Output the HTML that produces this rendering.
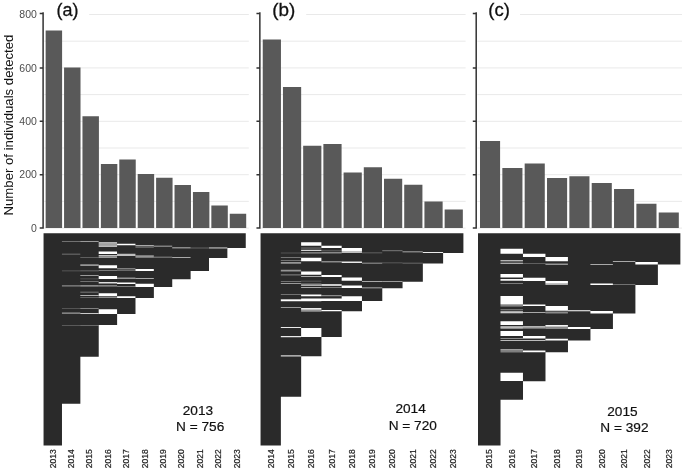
<!DOCTYPE html>
<html lang="en">
<head>
<meta charset="utf-8">
<title>Detection histories</title>
<style>
html,body{margin:0;padding:0;background:#fff}
body{width:685px;height:470px;overflow:hidden}
svg{display:block;will-change:transform;filter:grayscale(1)}
text{font-family:"Liberation Sans",Arial,Helvetica,sans-serif}
.pl{font-size:18.7px;fill:#111;stroke:#111;stroke-width:.3px}
.yr{font-size:8.55px;fill:#222;stroke:#222;stroke-width:.2px}
.nt{font-size:13.65px;fill:#111;stroke:#111;stroke-width:.2px;text-anchor:middle}
.yt{font-size:10.5px;fill:#4d4d4d;text-anchor:end}
.ytitle{font-size:13.18px;fill:#111}
</style>
</head>
<body>
<svg width="685" height="470" viewBox="0 0 685 470" role="img" aria-label="Detection histories by cohort">
<rect width="685" height="470" fill="#fff"/>
<g class="panel-a">
<path d="M44.3 228.1H248.8M44.3 201.4H248.8M44.3 174.7H248.8M44.3 148H248.8M44.3 121.3H248.8M44.3 94.6H248.8M44.3 67.9H248.8M44.3 41.2H248.8M44.3 14.5H248.8" stroke="#e6e6e6" stroke-width="0.9" fill="none"/>
<rect x="44.3" y="0" width="44.9" height="22" fill="#fff"/>
<text class="pl" transform="translate(56.5 15.7) scale(0.96 1)">(a)</text>
<path d="M45.65 30.5h16.45V228.1h-16.45zM64.06 67.5h16.45V228.1h-16.45zM82.47 116.25h16.45V228.1h-16.45zM100.88 164h16.45V228.1h-16.45zM119.29 159.5h16.45V228.1h-16.45zM137.7 174h16.45V228.1h-16.45zM156.11 177.75h16.45V228.1h-16.45zM174.52 185h16.45V228.1h-16.45zM192.93 192h16.45V228.1h-16.45zM211.34 205.5h16.45V228.1h-16.45zM229.75 213.75h16.45V228.1h-16.45z" fill="#595959"/>
<path d="M43.1 12.2V228.7M39.7 228.1H43.1M39.7 174.7H43.1M39.7 121.3H43.1M39.7 67.9H43.1M39.7 13.6H43.1" stroke="#333333" stroke-width="1.5" fill="none"/>
<path d="M43.55 233.3h18.43V445.5h-18.43zM61.93 233.3h18.43V403.7h-18.43zM80.3 233.3h18.43V356.8h-18.43zM98.68 233.3h18.43V325h-18.43zM117.06 233.3h18.43V314h-18.43zM135.44 233.3h18.43V297.9h-18.43zM153.81 233.3h18.43V287h-18.43zM172.19 233.3h18.43V279.3h-18.43zM190.57 233.3h18.43V271h-18.43zM208.94 233.3h18.43V257.9h-18.43zM227.32 233.3h18.43V248h-18.43z" fill="#2a2a2a"/>
<path d="M80.3 278.55h18.38v0.7h-18.38z" fill="#fff" fill-opacity="0.25"/>
<path d="M61.93 270.55h18.38v0.7h-18.38z" fill="#fff" fill-opacity="0.3"/>
<path d="M190.57 247.6h18.38v0.8h-18.38z" fill="#fff" fill-opacity="0.35"/>
<path d="M61.93 308.15h18.38v0.7h-18.38zM80.3 270.55h18.38v0.7h-18.38zM117.06 269.95h18.38v0.7h-18.38z" fill="#fff" fill-opacity="0.4"/>
<path d="M61.93 240.95h18.38v0.7h-18.38zM61.93 253.85h18.38v0.7h-18.38zM61.93 285.3h18.38v1.2h-18.38zM61.93 325.15h18.38v0.7h-18.38zM80.3 281.25h18.38v0.7h-18.38zM98.68 255.9h18.38v0.9h-18.38zM172.19 246.9h18.38v1.5h-18.38z" fill="#fff" fill-opacity="0.45"/>
<path d="M80.3 257.15h18.38v0.7h-18.38zM80.3 264.3h18.38v1.8h-18.38zM80.3 291.75h18.38v0.7h-18.38zM80.3 297.15h18.38v0.7h-18.38zM98.68 270.25h18.38v0.7h-18.38zM117.06 277.4h18.38v1.5h-18.38zM117.06 286.05h18.38v0.7h-18.38zM135.44 246.6h18.38v1h-18.38zM135.44 255.3h18.38v2.5h-18.38z" fill="#fff" fill-opacity="0.5"/>
<path d="M61.93 312.6h18.38v1.2h-18.38zM98.68 243.5h18.38v1.8h-18.38zM98.68 285.3h18.38v1.2h-18.38z" fill="#fff" fill-opacity="0.55"/>
<path d="M80.3 285.3h18.38v1.2h-18.38zM80.3 325.15h18.38v0.7h-18.38zM98.68 297.05h18.38v0.7h-18.38zM153.81 256.75h18.38v0.7h-18.38z" fill="#fff" fill-opacity="0.6"/>
<path d="M80.3 240.95h18.38v0.7h-18.38zM80.3 275.05h18.38v0.7h-18.38zM98.68 254.9h18.38v1h-18.38zM98.68 256.8h18.38v1h-18.38zM117.06 253.8h18.38v2.1h-18.38z" fill="#fff" fill-opacity="0.7"/>
<path d="M98.68 245.3h18.38v1.6h-18.38z" fill="#fff" fill-opacity="0.75"/>
<path d="M80.3 308.15h18.38v0.7h-18.38zM117.06 268.45h18.38v0.7h-18.38zM135.44 245h18.38v0.8h-18.38zM135.44 278.05h18.38v0.7h-18.38zM153.81 245.85h18.38v0.7h-18.38zM172.19 257.05h18.38v0.7h-18.38z" fill="#fff" fill-opacity="0.8"/>
<path d="M80.3 295.35h18.38v0.7h-18.38zM98.68 242.3h18.38v1.2h-18.38zM98.68 281.9h18.38v1.5h-18.38z" fill="#fff" fill-opacity="0.85"/>
<path d="M208.94 247.5h18.38v0.9h-18.38z" fill="#fff" fill-opacity="0.9"/>
<path d="M80.3 313.1h18.38v0.8h-18.38z" fill="#fff" fill-opacity="0.95"/>
<path d="M98.68 251.4h18.38v2.6h-18.38zM98.68 265.3h18.38v3h-18.38zM98.68 275.9h18.38v3h-18.38zM98.68 293.2h18.38v3h-18.38zM98.68 309.3h18.38v4.6h-18.38zM117.06 243.8h18.38v1.5h-18.38zM117.06 282.6h18.38v1.5h-18.38zM117.06 296.2h18.38v1.7h-18.38zM135.44 269.1h18.38v1.8h-18.38zM135.44 283.8h18.38v3.2h-18.38z" fill="#fff" fill-opacity="1"/>
<text class="yr" transform="translate(55.74 468.2) rotate(-90)">2013</text>
<text class="yr" transform="translate(74.12 468.2) rotate(-90)">2014</text>
<text class="yr" transform="translate(92.49 468.2) rotate(-90)">2015</text>
<text class="yr" transform="translate(110.87 468.2) rotate(-90)">2016</text>
<text class="yr" transform="translate(129.25 468.2) rotate(-90)">2017</text>
<text class="yr" transform="translate(147.62 468.2) rotate(-90)">2018</text>
<text class="yr" transform="translate(166 468.2) rotate(-90)">2019</text>
<text class="yr" transform="translate(184.38 468.2) rotate(-90)">2020</text>
<text class="yr" transform="translate(202.75 468.2) rotate(-90)">2021</text>
<text class="yr" transform="translate(221.13 468.2) rotate(-90)">2022</text>
<text class="yr" transform="translate(239.51 468.2) rotate(-90)">2023</text>
<text class="nt" x="197.9" y="414.5">2013</text>
<text class="nt" x="200.2" y="431.3">N = 756</text>
</g>
<g class="panel-b">
<path d="M261 228.1H465.6M261 201.4H465.6M261 174.7H465.6M261 148H465.6M261 121.3H465.6M261 94.6H465.6M261 67.9H465.6M261 41.2H465.6M261 14.5H465.6" stroke="#e6e6e6" stroke-width="0.9" fill="none"/>
<rect x="261" y="0" width="45.2" height="22" fill="#fff"/>
<text class="pl" transform="translate(272.3 15.7) scale(1.01 1)">(b)</text>
<path d="M262.75 39.5h18.2V228.1h-18.2zM282.96 87h18.2V228.1h-18.2zM303.17 145.75h18.2V228.1h-18.2zM323.38 144h18.2V228.1h-18.2zM343.59 172.5h18.2V228.1h-18.2zM363.8 167.25h18.2V228.1h-18.2zM384.01 178.75h18.2V228.1h-18.2zM404.22 184.75h18.2V228.1h-18.2zM424.43 201.5h18.2V228.1h-18.2zM444.64 209.5h18.2V228.1h-18.2z" fill="#595959"/>
<path d="M259.85 12.2V228.7M256.45 228.1H259.85M256.45 174.7H259.85M256.45 121.3H259.85M256.45 67.9H259.85M256.45 13.6H259.85" stroke="#333333" stroke-width="1.5" fill="none"/>
<path d="M260.55 233.3h20.33V445.5h-20.33zM280.83 233.3h20.33V396.7h-20.33zM301.11 233.3h20.33V356.3h-20.33zM321.39 233.3h20.33V337h-20.33zM341.67 233.3h20.33V311.2h-20.33zM361.95 233.3h20.33V301.05h-20.33zM382.23 233.3h20.33V288.3h-20.33zM402.51 233.3h20.33V281.85h-20.33zM422.79 233.3h20.33V263.4h-20.33zM443.07 233.3h20.33V252.9h-20.33z" fill="#2a2a2a"/>
<path d="M321.39 249.9h20.28v1.5h-20.28z" fill="#fff" fill-opacity="0.2"/>
<path d="M301.11 247.3h20.28v1.5h-20.28z" fill="#fff" fill-opacity="0.25"/>
<path d="M301.11 280.75h20.28v0.7h-20.28zM382.23 249.9h20.28v1.4h-20.28zM382.23 262.45h20.28v0.7h-20.28z" fill="#fff" fill-opacity="0.3"/>
<path d="M280.83 274.3h20.28v1.1h-20.28zM361.95 252.45h20.28v0.7h-20.28z" fill="#fff" fill-opacity="0.35"/>
<path d="M280.83 252.65h20.28v0.7h-20.28zM402.51 262.85h20.28v0.7h-20.28z" fill="#fff" fill-opacity="0.4"/>
<path d="M280.83 260.05h20.28v0.7h-20.28zM280.83 281.05h20.28v0.7h-20.28zM280.83 294.05h20.28v0.7h-20.28zM301.11 283.4h20.28v1.5h-20.28zM321.39 252h20.28v1.4h-20.28zM321.39 261h20.28v1.6h-20.28zM321.39 295h20.28v1.2h-20.28z" fill="#fff" fill-opacity="0.45"/>
<path d="M280.83 261.9h20.28v1.9h-20.28zM280.83 269.8h20.28v1.6h-20.28zM301.11 252.3h20.28v1.2h-20.28zM301.11 309.8h20.28v2h-20.28zM321.39 287.05h20.28v0.7h-20.28z" fill="#fff" fill-opacity="0.5"/>
<path d="M280.83 257.15h20.28v0.7h-20.28zM280.83 283.05h20.28v0.7h-20.28zM280.83 299.15h20.28v0.7h-20.28zM341.67 250.9h20.28v2h-20.28zM361.95 262.75h20.28v0.7h-20.28zM382.23 281.25h20.28v0.7h-20.28z" fill="#fff" fill-opacity="0.7"/>
<path d="M280.83 307.25h20.28v0.7h-20.28z" fill="#fff" fill-opacity="0.75"/>
<path d="M280.83 355.2h20.28v1.3h-20.28zM301.11 249.8h20.28v1.2h-20.28zM301.11 275.95h20.28v0.7h-20.28zM301.11 285.25h20.28v0.7h-20.28zM301.11 287.05h20.28v0.7h-20.28zM361.95 281.05h20.28v0.7h-20.28zM361.95 287.55h20.28v0.7h-20.28zM402.51 251.45h20.28v0.7h-20.28z" fill="#fff" fill-opacity="0.8"/>
<path d="M321.39 284.1h20.28v1.8h-20.28z" fill="#fff" fill-opacity="0.85"/>
<path d="M280.83 326.9h20.28v1h-20.28zM280.83 336h20.28v1.2h-20.28zM301.11 307.9h20.28v1.9h-20.28zM341.67 261.6h20.28v1.5h-20.28zM422.79 252.1h20.28v0.9h-20.28z" fill="#fff" fill-opacity="0.9"/>
<path d="M280.83 299.5h20.28v1.8h-20.28zM301.11 242.3h20.28v3.5h-20.28zM301.11 257.8h20.28v3.5h-20.28zM301.11 271.4h20.28v3.4h-20.28zM301.11 294.4h20.28v1.8h-20.28zM301.11 298.4h20.28v2.9h-20.28zM301.11 328.1h20.28v8.9h-20.28zM321.39 245.8h20.28v2.2h-20.28zM321.39 275.1h20.28v1.8h-20.28zM321.39 298.6h20.28v2.45h-20.28zM321.39 310.1h20.28v1.2h-20.28zM341.67 248h20.28v2.9h-20.28zM341.67 277.4h20.28v3.4h-20.28zM341.67 285.6h20.28v2.5h-20.28zM341.67 296.2h20.28v4.85h-20.28z" fill="#fff" fill-opacity="1"/>
<text class="yr" transform="translate(273.69 468.2) rotate(-90)">2014</text>
<text class="yr" transform="translate(293.97 468.2) rotate(-90)">2015</text>
<text class="yr" transform="translate(314.25 468.2) rotate(-90)">2016</text>
<text class="yr" transform="translate(334.53 468.2) rotate(-90)">2017</text>
<text class="yr" transform="translate(354.81 468.2) rotate(-90)">2018</text>
<text class="yr" transform="translate(375.09 468.2) rotate(-90)">2019</text>
<text class="yr" transform="translate(395.37 468.2) rotate(-90)">2020</text>
<text class="yr" transform="translate(415.65 468.2) rotate(-90)">2021</text>
<text class="yr" transform="translate(435.93 468.2) rotate(-90)">2022</text>
<text class="yr" transform="translate(456.21 468.2) rotate(-90)">2023</text>
<text class="nt" x="410.6" y="413">2014</text>
<text class="nt" x="412.8" y="429.6">N = 720</text>
</g>
<g class="panel-c">
<path d="M477.3 228.1H682M477.3 201.4H682M477.3 174.7H682M477.3 148H682M477.3 121.3H682M477.3 94.6H682M477.3 67.9H682M477.3 41.2H682M477.3 14.5H682" stroke="#e6e6e6" stroke-width="0.9" fill="none"/>
<rect x="477.3" y="0" width="42.7" height="22" fill="#fff"/>
<text class="pl" transform="translate(488.3 15.6) scale(0.99 1)">(c)</text>
<path d="M480 141h20.1V228.1h-20.1zM502.34 168h20.1V228.1h-20.1zM524.68 163.5h20.1V228.1h-20.1zM547.02 178h20.1V228.1h-20.1zM569.36 176.25h20.1V228.1h-20.1zM591.7 183h20.1V228.1h-20.1zM614.04 189h20.1V228.1h-20.1zM636.38 203.75h20.1V228.1h-20.1zM658.72 212.5h20.1V228.1h-20.1z" fill="#595959"/>
<path d="M476.2 12.2V228.7M472.8 228.1H476.2M472.8 174.7H476.2M472.8 121.3H476.2M472.8 67.9H476.2M472.8 13.6H476.2" stroke="#333333" stroke-width="1.5" fill="none"/>
<path d="M478 233.3h22.53V445.5h-22.53zM500.48 233.3h22.53V399.7h-22.53zM522.96 233.3h22.53V381.2h-22.53zM545.44 233.3h22.53V352.2h-22.53zM567.92 233.3h22.53V340.6h-22.53zM590.4 233.3h22.53V329h-22.53zM612.88 233.3h22.53V313.4h-22.53zM635.36 233.3h22.53V285h-22.53zM657.84 233.3h22.53V264.4h-22.53z" fill="#2a2a2a"/>
<path d="M500.48 260.9h22.48v0.9h-22.48zM500.48 305.4h22.48v1.4h-22.48z" fill="#fff" fill-opacity="0.35"/>
<path d="M500.48 350.5h22.48v2h-22.48z" fill="#fff" fill-opacity="0.4"/>
<path d="M500.48 309.3h22.48v1h-22.48zM545.44 311.6h22.48v2h-22.48zM612.88 284.25h22.48v0.7h-22.48z" fill="#fff" fill-opacity="0.45"/>
<path d="M500.48 282.9h22.48v0.9h-22.48zM522.96 263.4h22.48v0.7h-22.48zM545.44 263.4h22.48v1.6h-22.48z" fill="#fff" fill-opacity="0.5"/>
<path d="M500.48 349h22.48v1.5h-22.48z" fill="#fff" fill-opacity="0.55"/>
<path d="M500.48 304h22.48v1.4h-22.48zM500.48 338.25h22.48v0.7h-22.48z" fill="#fff" fill-opacity="0.6"/>
<path d="M500.48 260h22.48v0.9h-22.48zM522.96 325.9h22.48v1.7h-22.48z" fill="#fff" fill-opacity="0.65"/>
<path d="M545.44 283.4h22.48v1.5h-22.48z" fill="#fff" fill-opacity="0.7"/>
<path d="M500.48 311.2h22.48v2.1h-22.48z" fill="#fff" fill-opacity="0.75"/>
<path d="M500.48 262.8h22.48v1h-22.48zM500.48 326.3h22.48v1.3h-22.48zM522.96 311.95h22.48v0.7h-22.48zM590.4 264.25h22.48v0.7h-22.48zM612.88 260.95h22.48v0.7h-22.48z" fill="#fff" fill-opacity="0.8"/>
<path d="M522.96 327.6h22.48v0.8h-22.48z" fill="#fff" fill-opacity="0.85"/>
<path d="M500.48 339.9h22.48v0.9h-22.48zM522.96 339.9h22.48v0.9h-22.48zM545.44 327.5h22.48v0.9h-22.48z" fill="#fff" fill-opacity="0.9"/>
<path d="M500.48 278.9h22.48v1.9h-22.48zM500.48 327.6h22.48v0.9h-22.48zM545.44 324.9h22.48v1.9h-22.48z" fill="#fff" fill-opacity="0.95"/>
<path d="M500.48 248.8h22.48v5h-22.48zM500.48 273.9h22.48v3.5h-22.48zM500.48 295.9h22.48v8.1h-22.48zM500.48 321.3h22.48v3.8h-22.48zM500.48 331.1h22.48v4.8h-22.48zM500.48 372.8h22.48v8.2h-22.48zM522.96 253.8h22.48v3.3h-22.48zM522.96 277.8h22.48v3.3h-22.48zM522.96 304.5h22.48v1.4h-22.48zM522.96 335.9h22.48v2.7h-22.48zM522.96 350.6h22.48v1.6h-22.48zM545.44 257.1h22.48v4.2h-22.48zM545.44 281.1h22.48v2.3h-22.48zM545.44 305.9h22.48v4.9h-22.48zM545.44 338.7h22.48v1.9h-22.48zM567.92 310.3h22.48v0.9h-22.48zM567.92 327h22.48v1.9h-22.48zM590.4 283.5h22.48v1.4h-22.48zM590.4 311h22.48v2.5h-22.48zM635.36 261.9h22.48v2.6h-22.48z" fill="#fff" fill-opacity="1"/>
<text class="yr" transform="translate(492.24 468.2) rotate(-90)">2015</text>
<text class="yr" transform="translate(514.72 468.2) rotate(-90)">2016</text>
<text class="yr" transform="translate(537.2 468.2) rotate(-90)">2017</text>
<text class="yr" transform="translate(559.68 468.2) rotate(-90)">2018</text>
<text class="yr" transform="translate(582.16 468.2) rotate(-90)">2019</text>
<text class="yr" transform="translate(604.64 468.2) rotate(-90)">2020</text>
<text class="yr" transform="translate(627.12 468.2) rotate(-90)">2021</text>
<text class="yr" transform="translate(649.6 468.2) rotate(-90)">2022</text>
<text class="yr" transform="translate(672.08 468.2) rotate(-90)">2023</text>
<text class="nt" x="622.4" y="415.8">2015</text>
<text class="nt" x="624.4" y="431.8">N = 392</text>
</g>
<text class="yt" x="36.9" y="231.85">0</text>
<text class="yt" x="36.9" y="178.45">200</text>
<text class="yt" x="36.9" y="125.05">400</text>
<text class="yt" x="36.9" y="71.65">600</text>
<text class="yt" x="36.9" y="18.25">800</text>
<text class="ytitle" transform="translate(13.4 215.5) rotate(-90)">Number of individuals detected</text>
</svg>
</body>
</html>
